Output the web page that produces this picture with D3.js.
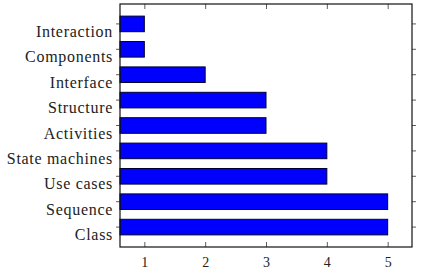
<!DOCTYPE html>
<html>
<head>
<meta charset="utf-8">
<script src="https://cdn.jsdelivr.net/npm/d3@7"></script>
<style>
  body { margin: 0; background: #fff; }
  text { fill: #222; }
</style>
</head>
<body>
<div id="chart"></div>
<script>

  // diagram types, top to bottom
  var categories = ["Interaction", "Components", "Interface", "Structure", "Activities",
                    "State machines", "Use cases", "Sequence", "Class"];
  var counts = [1, 1, 2, 3, 3, 4, 4, 5, 5];
  var xTicks = [1, 2, 3, 4, 5];

  var dataset = categories.map(function(c, i) {
    return { type: c, total: counts[i] };
  });

  createChart(dataset);

  function createChart(dataset) {
    var width = 432;
    var height = 275;
    var left = 120, right = 412, top = 4, bottom = 247;
    var serif = "'Liberation Serif', 'DejaVu Serif', serif";

    var xScale = d3.scaleLinear()
      .domain([0.6, 5.4])
      .range([left, right]);

    var yScale = d3.scaleBand()
      .domain(dataset.map(function(d) { return d.type; }))
      .range([top, bottom])
      .paddingInner(0.386)
      .paddingOuter(0.477);

    var svg = d3.select("#chart")
      .append("svg")
      .attr("width", width)
      .attr("height", height);

    // bars
    svg.selectAll("rect.bar")
      .data(dataset)
      .enter()
      .append("rect")
      .attr("class", "bar")
      .attr("x", xScale(0.6))
      .attr("y", function(d) { return yScale(d.type); })
      .attr("width", function(d) { return xScale(d.total) - xScale(0.6); })
      .attr("height", yScale.bandwidth())
      .attr("fill", "#0000ff")
      .attr("stroke", "#000033")
      .attr("stroke-width", 1);

    // bottom axis, ticks inward
    var xaxis = svg.append("g")
      .attr("transform", "translate(0," + bottom + ")")
      .call(d3.axisBottom(xScale).tickValues(xTicks).tickSizeInner(-5).tickSizeOuter(0).tickPadding(10).tickFormat(d3.format("d")));
    xaxis.attr("font-family", serif).attr("font-size", 14);

    // top axis mirror
    svg.append("g")
      .attr("transform", "translate(0," + top + ")")
      .call(d3.axisTop(xScale).tickValues(xTicks).tickSizeInner(-5).tickSizeOuter(0).tickFormat(""));

    // left axis, labels sit a little below the ticks
    var yaxis = svg.append("g")
      .attr("transform", "translate(" + left + ",0)")
      .call(d3.axisLeft(yScale).tickSizeInner(4).tickSizeOuter(0).tickPadding(3));
    yaxis.attr("font-family", serif).attr("font-size", 16);
    yaxis.selectAll("text")
      .attr("dy", 0)
      .attr("y", 13)
      .style("letter-spacing", "0.7px");

    // right axis mirror
    svg.append("g")
      .attr("transform", "translate(" + right + ",0)")
      .call(d3.axisRight(yScale).tickSizeInner(4).tickSizeOuter(0).tickFormat(""));

    svg.selectAll(".domain").remove();
    svg.selectAll(".tick line").attr("stroke", "#333").attr("stroke-width", 0.8);

    // frame
    svg.append("rect")
      .attr("x", left)
      .attr("y", top)
      .attr("width", right - left)
      .attr("height", bottom - top)
      .attr("fill", "none")
      .attr("stroke", "#111")
      .attr("stroke-width", 1.2);
  }
</script>
</body>
</html>
